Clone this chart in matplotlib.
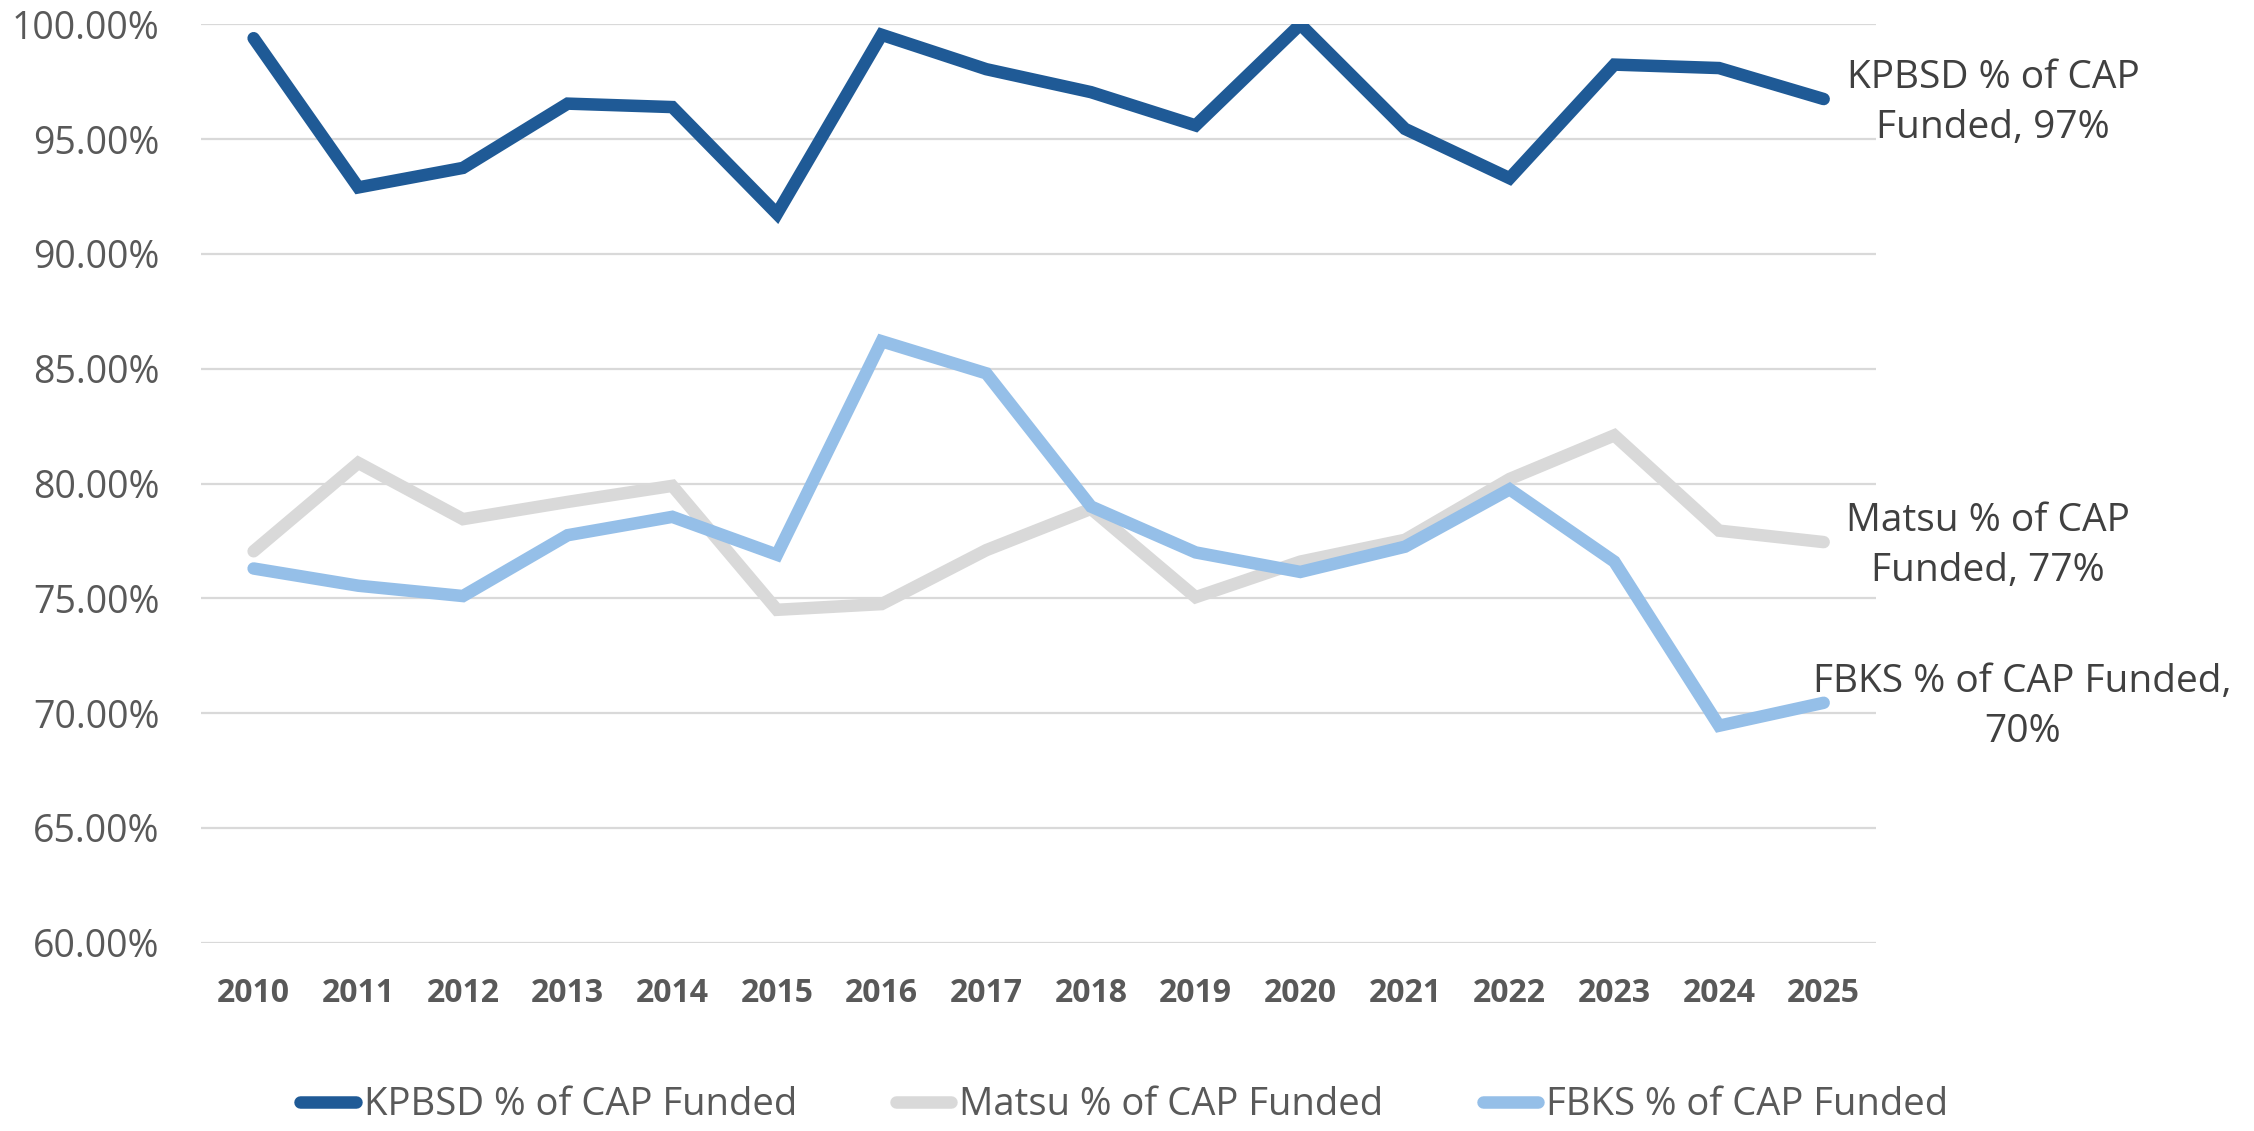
"""
Percent of CAP funded, three districts, 2010-2025.
"""

import matplotlib
matplotlib.use("Agg")
import matplotlib.pyplot as plt
from matplotlib.ticker import FuncFormatter, MultipleLocator

years = [str(y) for y in range(2010, 2026)]

kpbsd = [99.4, 92.9, 93.75, 96.55, 96.4, 91.75, 99.55, 98.05,
         97.05, 95.6, 100.0, 95.45, 93.3, 98.25, 98.1, 96.75]
matsu = [77.05, 80.9, 78.45, 79.2, 79.9, 74.5, 74.75, 77.1,
         78.9, 75.05, 76.6, 77.55, 80.2, 82.1, 77.95, 77.45]
fbks = [76.3, 75.55, 75.1, 77.75, 78.55, 76.9, 86.2, 84.8,
        79.0, 77.0, 76.15, 77.25, 79.75, 76.6, 69.45, 70.45]

names = ["KPBSD % of CAP Funded", "Matsu % of CAP Funded", "FBKS % of CAP Funded"]
end_labels = ["KPBSD % of CAP\nFunded, 97%", "Matsu % of CAP\nFunded, 77%",
              "FBKS % of CAP Funded,\n70%"]
label_dx = [122, 118, 143]   # label centre offset from last point, pt
colors = ["#1F5A96", "#D9D9D9", "#95BFE8"]

plt.rcParams["font.family"] = ["Open Sans", "DejaVu Sans"]
TXT = "#595959"

fig = plt.figure(figsize=(22.54, 11.31), dpi=100)
ax = fig.add_axes([0.0893, 0.1665, 0.8323 - 0.0893, 0.9784 - 0.1665])

x = list(range(len(years)))
handles = []
for vals, name, c in zip([kpbsd, matsu, fbks], names, colors):
    h, = ax.plot(x, vals, color=c, lw=9, solid_capstyle="round",
                 solid_joinstyle="miter", label=name)
    handles.append(h)

for vals, lab, dx in zip([kpbsd, matsu, fbks], end_labels, label_dx):
    ax.annotate(lab, xy=(x[-1], vals[-1]), xytext=(dx, -3),
                textcoords="offset points", ha="center", va="center",
                multialignment="center", fontsize=28, color="#404040",
                annotation_clip=False, linespacing=1.42)

ax.set_xlim(-0.5, len(years) - 0.5)
ax.set_ylim(60, 100)
ax.yaxis.set_major_locator(MultipleLocator(5))
ax.yaxis.set_major_formatter(FuncFormatter(lambda v, p: f"{v:.2f}%"))
ax.set_xticks(x)
ax.set_xticklabels(years, fontsize=23, fontweight="bold", color=TXT)
ax.tick_params(axis="y", labelsize=27, labelcolor=TXT, length=0, pad=30)
ax.tick_params(axis="x", length=0, pad=25)

ax.grid(axis="y", color="#D9D9D9", lw=1.6)
ax.set_axisbelow(True)
for s in ax.spines.values():
    s.set_visible(False)

fig.legend(handles=handles, loc="center", bbox_to_anchor=(0.4987, 0.023),
           ncol=3, frameon=False, fontsize=27.5, labelcolor=TXT,
           handlelength=1.45, handletextpad=0.2, columnspacing=2.6)

fig.savefig("out.png", dpi=100)
